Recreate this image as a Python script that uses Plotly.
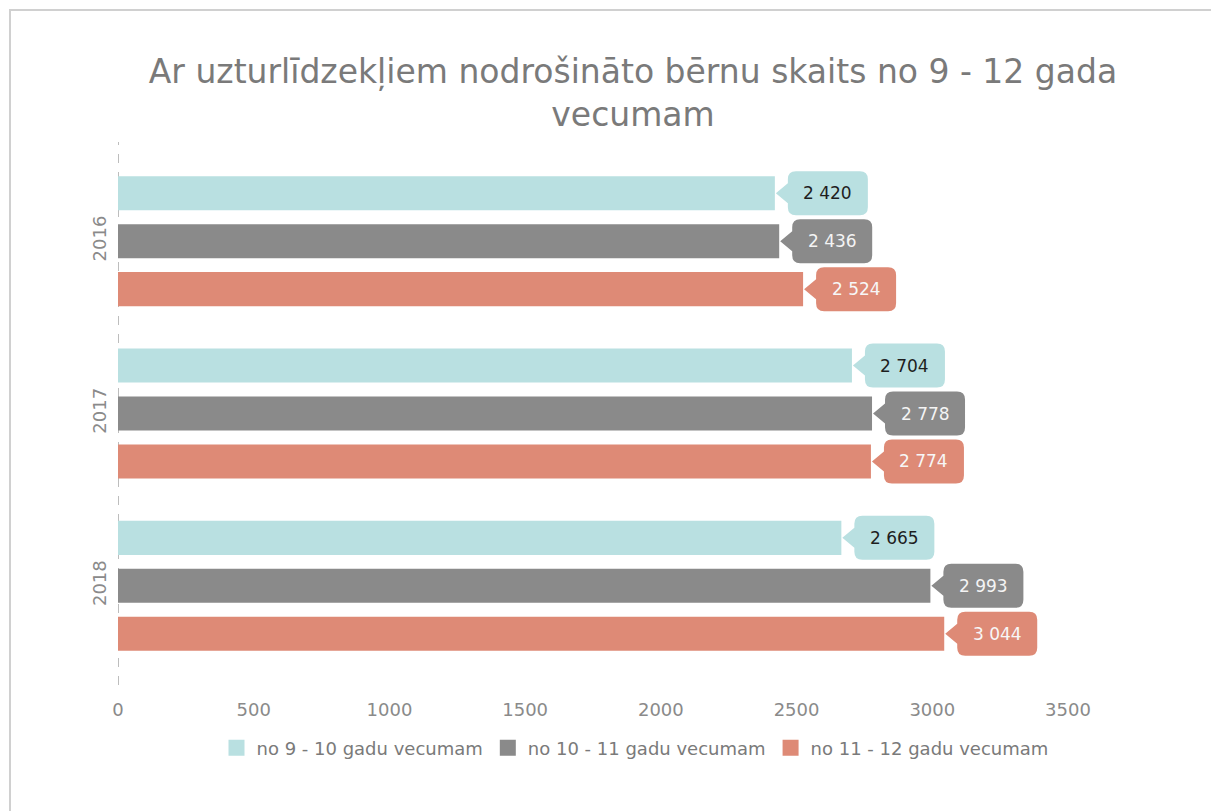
import plotly.graph_objects as go

years = ["2016", "2017", "2018"]
series_names = ["no 9 - 10 gadu vecumam", "no 10 - 11 gadu vecumam", "no 11 - 12 gadu vecumam"]
vals_9_10 = [2420, 2704, 2665]
vals_10_11 = [2436, 2778, 2993]
vals_11_12 = [2524, 2774, 3044]
x_ticks = [0, 500, 1000, 1500, 2000, 2500, 3000, 3500]

colors = ["#b9e0e1", "#8a8a8a", "#de8a76"]
text_colors = ["#1e1e1e", "#f4f4f4", "#f7f7f7"]
series = [vals_9_10, vals_10_11, vals_11_12]

FONT = "DejaVu Sans, Liberation Sans, Arial"
# page body has an 8px margin, so the figure is laid out 8px smaller
OFF = 8
W, H = 1219 - OFF, 811 - OFF
ml = 118 - OFF
pr = 1068 - OFF
pt = 155 - OFF
pb = 672 - OFF
mr, mt, mb = W - pr, pt, H - pb
pw, ph = pr - ml, pb - pt
bargap = 0.165
bargroupgap = 0.29
slot = (1 - bargap) / 3

fig = go.Figure()
for i, (name, vals) in enumerate(zip(series_names, series)):
    fig.add_trace(go.Bar(
        y=years, x=vals, name=name, orientation="h",
        marker=dict(color=colors[i], line=dict(width=0)),
        hoverinfo="x+name", showlegend=False,
    ))
# legend entries with larger square swatches
for i, name in enumerate(series_names):
    fig.add_trace(go.Scatter(
        x=[None], y=[None], mode="markers", name=name,
        marker=dict(symbol="square", size=16, color=colors[i]),
        showlegend=True, hoverinfo="skip",
    ))

def fmt(v):
    return f"{v:,}".replace(",", " ")

r = 8
bx0, bx1, bh = 13, 93, 22
th = 10
callout = (f"M 1,0 L {bx0},{th} L {bx0},{bh - r} Q {bx0},{bh} {bx0 + r},{bh} "
           f"L {bx1 - r},{bh} Q {bx1},{bh} {bx1},{bh - r} L {bx1},{-bh + r} "
           f"Q {bx1},{-bh} {bx1 - r},{-bh} L {bx0 + r},{-bh} Q {bx0},{-bh} {bx0},{-bh + r} "
           f"L {bx0},{-th} Z")

shapes = []
annotations = []
for i, vals in enumerate(series):
    off = (i - 1) * slot
    for j, v in enumerate(vals):
        yc = j + off
        shapes.append(dict(
            type="path", xref="x", yref="y", xsizemode="pixel", ysizemode="pixel",
            xanchor=v, yanchor=yc, path=callout,
            fillcolor=colors[i], line=dict(width=0), layer="above",
        ))
        annotations.append(dict(
            x=v, y=yc, xref="x", yref="y", text=fmt(v), showarrow=False,
            xshift=(bx0 + bx1) / 2, xanchor="center", yanchor="middle",
            font=dict(family=FONT, size=17, color=text_colors[i]),
        ))

# dashed zero axis line
shapes.append(dict(type="line", xref="x", yref="paper", x0=0, x1=0,
                   y0=-0.025, y1=1.025, line=dict(color="#a8a8a8", width=1.5, dash="dash"),
                   layer="below"))
# photo frame edge
shapes.append(dict(type="rect", xref="paper", yref="paper",
                   x0=(10 - OFF - ml) / pw, x1=(1260 - ml) / pw,
                   y0=-(H + 40 - pb) / ph, y1=1 + (pt - (10 - OFF)) / ph,
                   line=dict(color="#d0d0d0", width=2), fillcolor="rgba(0,0,0,0)",
                   layer="below"))

fig.update_layout(
    width=W, height=H,
    margin=dict(l=ml, r=mr, t=mt, b=mb, autoexpand=False),
    paper_bgcolor="white", plot_bgcolor="white",
    barmode="group", bargap=bargap, bargroupgap=bargroupgap,
    title=dict(
        text="Ar uzturlīdzekļiem nodrošināto bērnu skaits no 9 - 12 gada<br>vecumam",
        x=(633 - OFF) / W, xanchor="center", xref="container",
        y=1 - 75 / H, yanchor="top", yref="container",
        font=dict(family=FONT, size=33, color="#7a7a7a"),
    ),
    font=dict(family=FONT, color="#888888"),
    xaxis=dict(range=[0, 3500], tickvals=x_ticks, showgrid=False, zeroline=False,
               showline=False, ticks="", ticklabelstandoff=25, automargin=False,
               tickfont=dict(size=18, color="#8a8a8a")),
    yaxis=dict(autorange="reversed", showgrid=False, zeroline=False, showline=False,
               ticks="", tickangle=-90, ticklabelstandoff=7, automargin=False,
               tickfont=dict(size=18, color="#8a8a8a")),
    legend=dict(orientation="h", x=(635 - OFF - ml) / pw, xanchor="center",
                y=-(748 - OFF - pb) / ph, yanchor="middle",
                font=dict(size=18, color="#7a7a7a"), itemclick=False,
                tracegroupgap=0),
    shapes=shapes, annotations=annotations,
)

fig.write_html("out.html")
